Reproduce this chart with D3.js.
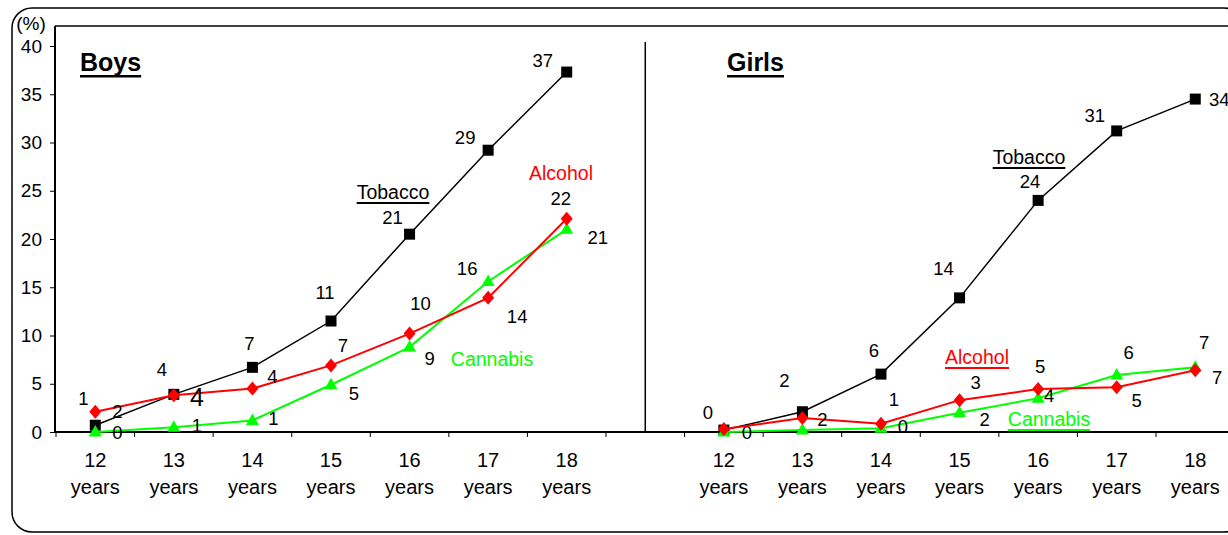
<!DOCTYPE html>
<html>
<head>
<meta charset="utf-8">
<script src="https://cdn.jsdelivr.net/npm/d3@7"></script>
<style>
  body { margin: 0; background: #fff; }
  svg { font-family: "Liberation Sans", Arial, sans-serif; }
</style>
</head>
<body>
<script>
// categories (boys block, empty gap, girls block)
let ages = ["12", "13", "14", "15", "16", "17", "18"];
let yTicks = [0, 5, 10, 15, 20, 25, 30, 35, 40];

// values (%)
let boysTobacco  = [0.7, 3.9, 6.7, 11.5, 20.5, 29.2, 37.3];
let boysAlcohol  = [2.1, 3.8, 4.5, 6.9, 10.2, 13.9, 22.1];
let boysCannabis = [0.0, 0.5, 1.2, 4.9, 8.8, 15.6, 21.0];
let girlsTobacco  = [0.2, 2.1, 6.0, 13.9, 24.0, 31.2, 34.5];
let girlsAlcohol  = [0.3, 1.45, 0.85, 3.3, 4.45, 4.65, 6.4];
let girlsCannabis = [0.0, 0.2, 0.4, 2.0, 3.5, 5.9, 6.7];

// printed data labels
let boysTobaccoLbl  = [1, 4, 7, 11, 21, 29, 37];
let boysAlcoholLbl  = [2, 4, 4, 7, 10, 14, 22];
let boysCannabisLbl = [0, 1, 1, 5, 9, 16, 21];
let girlsTobaccoLbl  = [0, 2, 6, 14, 24, 31, 34];
let girlsAlcoholLbl  = [null, 2, 1, 3, 5, 5, 7];
let girlsCannabisLbl = [0, null, 0, 2, 4, 6, 7];

// label offsets from their points (px)
let offBT = [[-12,-27],[-12,-25],[-3,-24],[-6,-29],[-17,-17],[-23,-13],[-24,-12]];
let offBA = [[22,0],[23,2],[20,-12],[12,-20],[11,-30],[29,18],[-6,-20]];
let offBC = [[22,0],[23,-2],[21,-2],[23,9],[20,11],[-21,-13],[31,8]];
let offGT = [[-16,-18],[-18,-31],[-7,-24],[-16,-30],[-8,-19],[-22,-16],[24,0]];
let offGA = [[0,0],[20,1],[13,-24],[16,-18],[2,-23],[20,13],[22,7]];
let offGC = [[23,0],[0,0],[22,-2],[25,7],[11,-3],[12,-23],[9,-25]];

let w = 1228, h = 535;
let svg = d3.select("body").append("svg").attr("width", w).attr("height", h);

let keys = ages.map(a => "b" + a).concat(["gap"], ages.map(a => "g" + a));
let x = d3.scaleBand().domain(keys).range([56, 56 + 15 * 78.57]).padding(0);
let y = d3.scaleLinear().domain([0, 40]).range([432, 46]);
let cx = k => x(k) + x.bandwidth() / 2;

// outer rounded frame
svg.append("rect")
    .attr("x", 12).attr("y", 8)
    .attr("width", 1232).attr("height", 524)
    .attr("rx", 20).attr("ry", 20)
    .attr("fill", "none").attr("stroke", "#000").attr("stroke-width", 1.5);

// plot frame top line + left axis
svg.append("line").attr("x1", 55).attr("x2", w).attr("y1", 26).attr("y2", 26)
    .attr("stroke", "#000").attr("stroke-width", 1.5);

let yAxis = svg.append("g").attr("transform", "translate(55,0)")
    .call(d3.axisLeft(y).tickValues(yTicks).tickSize(5).tickPadding(8));
yAxis.select(".domain").remove();
yAxis.selectAll("line").attr("stroke", "#000");
yAxis.selectAll("text").attr("font-size", 19).attr("fill", "#000")
    .attr("font-family", "Liberation Sans, Arial, sans-serif");
svg.append("line").attr("x1", 55).attr("x2", 55).attr("y1", 26).attr("y2", 432)
    .attr("stroke", "#000").attr("stroke-width", 2);

svg.append("text").attr("x", 31).attr("y", 30).attr("text-anchor", "middle")
    .attr("font-size", 19).text("(%)");

// x axis
svg.append("line").attr("x1", 55).attr("x2", w).attr("y1", 432).attr("y2", 432)
    .attr("stroke", "#000").attr("stroke-width", 2);
svg.selectAll(".xtick").data(keys).enter().append("line")
    .attr("x1", d => x(d)).attr("x2", d => x(d))
    .attr("y1", 432).attr("y2", 437)
    .attr("stroke", "#000").attr("stroke-width", 1);

let xl = svg.selectAll(".xlab").data(keys.filter(k => k !== "gap")).enter()
    .append("text").attr("text-anchor", "middle").attr("font-size", 20);
xl.append("tspan").attr("x", d => cx(d)).attr("y", 467).text(d => d.slice(1));
xl.append("tspan").attr("x", d => cx(d)).attr("y", 494).text("years");

// divider
svg.append("line").attr("x1", cx("gap")).attr("x2", cx("gap")).attr("y1", 42).attr("y2", 432)
    .attr("stroke", "#000").attr("stroke-width", 1.5);

// panel titles
function title(txt, x0) {
    let t = svg.append("text").attr("x", x0).attr("y", 71)
        .attr("font-size", 25).attr("font-weight", "bold").text(txt);
    let bw = t.node().getComputedTextLength();
    svg.append("rect").attr("x", x0).attr("y", 75).attr("width", bw).attr("height", 2.5).attr("fill", "#000");
}
title("Boys", 80);
title("Girls", 727);

// series
function series(prefix, vals, lbls, offs, color, marker, lw) {
    let pts = ages.map((a, i) => ({ k: prefix + a, v: vals[i], l: lbls[i], o: offs[i] }));
    let line = d3.line().x(d => cx(d.k)).y(d => y(d.v));
    svg.append("path").datum(pts).attr("d", line)
        .attr("fill", "none").attr("stroke", color).attr("stroke-width", lw);
    svg.selectAll(null).data(pts).enter().append("path")
        .attr("transform", d => `translate(${cx(d.k)},${y(d.v)})`)
        .attr("d", marker).attr("fill", color);
    return svg.selectAll(null).data(pts.filter(d => d.l !== null)).enter().append("text")
        .attr("x", d => cx(d.k) + d.o[0]).attr("y", d => y(d.v) + d.o[1])
        .attr("dy", "0.36em").attr("text-anchor", "middle")
        .attr("font-size", 18.5).attr("fill", "#000").text(d => d.l);
}
let sq = "M-5.5,-5.5H5.5V5.5H-5.5Z";
let dia = "M0,-7L6,0L0,7L-6,0Z";
let tri = "M0,-7L6.5,4.5L-6.5,4.5Z";

series("b", boysTobacco, boysTobaccoLbl, offBT, "#000", sq, 1.5);
series("b", boysCannabis, boysCannabisLbl, offBC, "#00ff00", tri, 2);
// the 13-year alcohol label is printed larger in the original
series("b", boysAlcohol, boysAlcoholLbl, offBA, "#ff0000", dia, 2)
    .filter(d => d.k === "b13").attr("font-size", 25);
series("g", girlsTobacco, girlsTobaccoLbl, offGT, "#000", sq, 1.5);
series("g", girlsCannabis, girlsCannabisLbl, offGC, "#00ff00", tri, 2);
series("g", girlsAlcohol, girlsAlcoholLbl, offGA, "#ff0000", dia, 2);

// series name labels
function name(txt, x0, y0, color, underline) {
    let t = svg.append("text").attr("x", x0).attr("y", y0).attr("dy", "0.36em")
        .attr("text-anchor", "middle").attr("font-size", 19.5).attr("fill", color).text(txt);
    if (underline) {
        let bw = t.node().getComputedTextLength();
        svg.append("line").attr("x1", x0 - bw / 2).attr("x2", x0 + bw / 2)
            .attr("y1", y0 + 11).attr("y2", y0 + 11)
            .attr("stroke", color).attr("stroke-width", 2);
    }
}
name("Tobacco", 393, 192, "#000", true);
name("Alcohol", 561, 173, "#ff0000", false);
name("Cannabis", 492, 359, "#00ff00", false);
name("Tobacco", 1029, 157, "#000", true);
name("Alcohol", 977, 357, "#ff0000", true);
name("Cannabis", 1049, 419, "#00ff00", true);
</script>
</body>
</html>
